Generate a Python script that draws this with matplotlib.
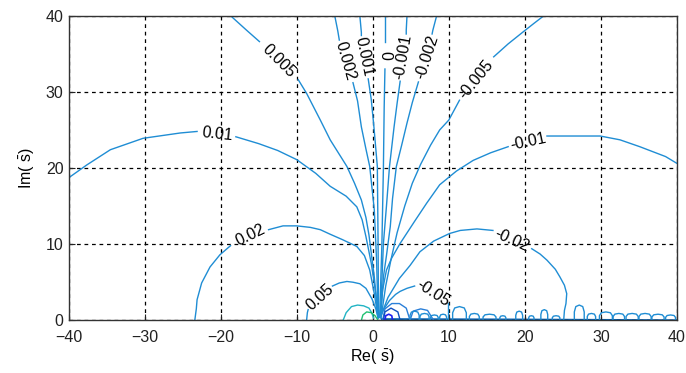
import matplotlib
matplotlib.use("Agg")
import matplotlib.pyplot as plt

plt.rcParams['font.family'] = ['Liberation Sans', 'DejaVu Sans']
plt.rcParams['mathtext.fontset'] = 'custom'
plt.rcParams['mathtext.rm'] = 'Liberation Sans'
plt.rcParams['mathtext.it'] = 'Liberation Sans'

# contour lines, each split in two where its label sits
p001_ax = [-40, -37.6, -34.5, -30.2, -25.3, -23.1]
p001_ay = [18.7, 20.4, 22.4, 23.9, 24.6, 24.8]
p001_bx = [-18.0, -15, -12.5, -10, -7.5, -5.6, -3.5, -2.1, -1.4, -0.9, -0.2, 0.4, 0.7]
p001_by = [24.1, 23.2, 22.3, 21.1, 19.3, 17.6, 16.3, 14.9, 13.2, 11.0, 7.5, 3.5, 0.3]

p0005_ax = [-18.7, -16.6, -14.9]
p0005_ay = [40, 38.1, 36.6]
p0005_bx = [-9.8, -8.7, -6.9, -5.6, -3.4, -2.4, -1.5, -0.9, -0.5, 0.2, 0.7]
p0005_by = [31.6, 29.8, 26.3, 23.7, 20.2, 18.0, 15.8, 13.5, 11.2, 5.7, 0.4]

p0002_ax = [-5.0, -4.6, -4.4]
p0002_ay = [40, 38.0, 36.8]
p0002_bx = [-2.6, -2.0, -1.5, -0.9, -0.4, 0.2, 0.5, 0.7]
p0002_by = [31.2, 28.8, 25.4, 22.5, 20.2, 14.5, 7.9, 0.4]

p0001_ax = [-1.7, -1.5, -1.5]
p0001_ay = [40, 37.8, 37.4]
p0001_bx = [-0.6, -0.2, 0.15, 0.6, 0.7, 0.75]
p0001_by = [31.7, 29, 25.4, 20.2, 10, 0.4]

zero_ax = [1.6, 1.6]
zero_ay = [40, 36.6]
zero_bx = [1.6, 1.5, 1.4, 1.2, 0.9]
zero_by = [33.0, 28, 20.2, 10, 0.4]

m0001_ax = [4.5, 4.4, 4.4]
m0001_ay = [40, 38.1, 37.6]
m0001_bx = [3.6, 3.2, 2.8, 2.2, 1.8, 1.4, 1.0]
m0001_by = [31.4, 28.5, 25.4, 20.2, 15, 10.1, 0.4]

m0002_ax = [8.4, 7.9, 7.8]
m0002_ay = [40, 38.1, 37.6]
m0002_bx = [6.0, 5.2, 4.5, 3.8, 3.1, 2.6, 2.3, 1.8, 1.4, 1.05]
m0002_by = [31.3, 28.6, 25.9, 23.0, 20.2, 16, 12.3, 8.5, 5.7, 0.4]

m0005_ax = [22.5, 21.2, 19.8, 17.8, 15.9]
m0005_ay = [40, 39.0, 37.9, 36.3, 34.6]
m0005_bx = [11.4, 10.0, 8.8, 7.6, 6.3, 5.2, 4.2, 3.2, 2.4, 1.7, 1.1]
m0005_by = [28.9, 26.3, 25.0, 23.0, 20.5, 18.0, 15.0, 11.5, 8.0, 4.5, 0.4]

m001_ax = [40, 38.5, 35.1, 32.5, 29.9, 26, 22.9]
m001_ay = [20.6, 21.5, 22.8, 23.7, 24.2, 24.2, 24.2]
m001_bx = [17.8, 15.5, 13.2, 11.0, 8.8, 7.1, 5.5, 3.6, 2.5, 1.8, 1.3, 0.95]
m001_by = [22.8, 22.0, 21.0, 19.6, 17.8, 15.4, 13.0, 10.1, 8.2, 6.6, 4, 0.4]

m002_ax = [1.0, 2.0, 3.5, 4.9, 6.2, 8.0, 10.1, 11.5, 13.7, 15.8]
m002_ay = [0.4, 3.0, 5.5, 7.2, 9.0, 10.4, 11.4, 11.8, 12.0, 11.8]
m002_bx = [20.9, 22.0, 22.9, 24.0, 24.6, 25.2, 25.5, 25.4, 25.2, 25.1]
m002_by = [9.4, 8.7, 7.9, 6.7, 5.7, 4.6, 3.5, 2.2, 1.3, 0]

p002_ax = [-23.4, -23.2, -23.1, -22.5, -21.4, -20.1, -18.7]
p002_ay = [0, 1.5, 2.7, 4.9, 7.0, 8.6, 9.8]
p002_bx = [-13.7, -11.8, -10, -8.2, -6.9, -5.6, -4.0, -2.1, -1.1, -0.4, 0.2, 0.7]
p002_by = [11.9, 12.4, 12.4, 12.2, 11.9, 11.3, 10.6, 9.7, 8.5, 6.6, 3.5, 0.3]

p005_ax = [-8.7, -8.6, -8.5]
p005_ay = [0, 1.0, 1.4]
p005_bx = [-5.3, -4.4, -3.4, -2.6, -1.7, -0.9, -0.1, 0.4, 0.7]
p005_by = [4.5, 4.9, 5.1, 5.0, 4.8, 4.2, 2.8, 1.5, 0.3]

m005_ax = [1.0, 1.4, 2.2, 3.0, 3.6, 4.5, 5.5]
m005_ay = [0.3, 1.4, 2.6, 3.4, 3.8, 4.2, 4.5]
m005_bx = [9.9, 9.9, 9.9]
m005_by = [2.3, 1.2, 0]

# label centres and angles (degrees)
label_text = ["0.01", "0.005", "0.002", "0.001", "0", "-0.001", "-0.002",
              "-0.005", "-0.01", "-0.02", "0.02", "0.05", "-0.05"]
label_x = [-20.5, -12.4, -3.6, -1.2, 1.6, 4.0, 7.1, 13.6, 20.4, 18.3, -16.1, -7.0, 7.9]
label_y = [24.4, 34.0, 34.0, 34.6, 34.8, 34.6, 34.6, 31.6, 23.5, 10.5, 11.2, 3.0, 3.5]
label_rot = [-6, -45, -74, -78, -90, 80, 72, 51, 12, -24, 26, 42, -33]

# small closed loops near the origin
teal_x = [-3.9, -3.5, -2.8, -2.0, -1.2, -0.5, -0.15, 0.1]
teal_y = [0, 1.0, 1.8, 2.0, 1.9, 1.6, 1.0, 0.3]
green_x = [-1.5, -1.3, -0.8, -0.2, 0.3, 0.7]
green_y = [0, 0.7, 1.1, 1.0, 0.6, 0]
hump1_x = [1.3, 1.6, 2.5, 3.5, 4.4, 4.9]
hump1_y = [0, 1.5, 2.2, 2.2, 1.6, 0]
hump2_x = [4.9, 5.3, 6.3, 7.2, 8.0]
hump2_y = [0, 1.2, 1.5, 1.3, 0]
dark_x = [1.4, 1.6, 2.4, 3.3, 3.6]
dark_y = [0, 1.1, 1.6, 1.1, 0]
vivid_x = [1.6, 1.7, 2.1, 2.5, 2.6]
vivid_y = [0, 0.6, 0.8, 0.6, 0]

# ripples along the positive real axis
rip_left = [4.9, 6.2, 7.6, 8.8, 10.5, 12.7, 14.5, 16.7, 18.8, 20.5,
            22.1, 23.6, 26.5, 28.2, 29.8, 31.6, 33.3, 35.0, 36.7, 38.5]
rip_right = [6.1, 7.4, 8.6, 9.7, 12.3, 14.0, 16.2, 17.5, 19.7, 21.2,
             23.0, 24.6, 27.8, 29.3, 31.5, 33.1, 34.9, 36.6, 38.3, 39.8]
rip_height = [1.2, 0.9, 0.7, 0.8, 1.8, 0.9, 0.8, 0.6, 1.2, 0.6,
              1.4, 0.6, 2.0, 0.9, 1.1, 0.9, 0.9, 0.9, 0.8, 0.7]
# crowded dark bottom band: start, end, height
band_x = [1.0, 18.0, 40.0]
band_h = [0.35, 0.3, 0.2]

line_blue = "#1f8dd4"

fig = plt.figure(figsize=(6.86, 3.73), dpi=100)
ax = fig.add_axes([0.0999, 0.1413, 0.887, 0.8166])

pieces = [
    (p001_ax, p001_ay, p001_bx, p001_by),
    (p0005_ax, p0005_ay, p0005_bx, p0005_by),
    (p0002_ax, p0002_ay, p0002_bx, p0002_by),
    (p0001_ax, p0001_ay, p0001_bx, p0001_by),
    (zero_ax, zero_ay, zero_bx, zero_by),
    (m0001_ax, m0001_ay, m0001_bx, m0001_by),
    (m0002_ax, m0002_ay, m0002_bx, m0002_by),
    (m0005_ax, m0005_ay, m0005_bx, m0005_by),
    (m001_ax, m001_ay, m001_bx, m001_by),
    (m002_ax, m002_ay, m002_bx, m002_by),
    (p002_ax, p002_ay, p002_bx, p002_by),
    (p005_ax, p005_ay, p005_bx, p005_by),
    (m005_ax, m005_ay, m005_bx, m005_by),
]
for axx, ayy, bxx, byy in pieces:
    ax.plot(axx, ayy, color=line_blue, lw=1.0)
    ax.plot(bxx, byy, color=line_blue, lw=1.0)

ax.plot(teal_x, teal_y, color="#22b4c4", lw=1.0)
ax.plot(green_x, green_y, color="#20c070", lw=1.0)
ax.plot(hump1_x, hump1_y, color="#2a7fd8", lw=1.0)
ax.plot(hump2_x, hump2_y, color="#2a7fd8", lw=1.0)
ax.plot(dark_x, dark_y, color="#1050c0", lw=1.0)
ax.plot(vivid_x, vivid_y, color="#2020f0", lw=1.2)

for l, r, h in zip(rip_left, rip_right, rip_height):
    w = r - l
    xs = [l, l, l + 0.15 * w, (l + r) / 2, r - 0.15 * w, r, r]
    ys = [0, 0.55 * h, 0.9 * h, h, 0.9 * h, 0.55 * h, 0]
    ax.plot(xs, ys, color=line_blue, lw=1.0)
ax.fill_between(band_x, 0, band_h, color="#0a64b4", lw=0)

for t, x, y, r in zip(label_text, label_x, label_y, label_rot):
    ax.text(x, y, t, rotation=r, rotation_mode="anchor", ha="center", va="center",
            fontsize=11.5, color="black")

ax.set_xlim(-40, 40)
ax.set_ylim(0, 40)
ax.set_xticks(range(-40, 41, 10))
ax.set_yticks(range(0, 41, 10))
ax.grid(True, color="black", linestyle=(0, (3, 3)), linewidth=0.9)
ax.tick_params(direction="in", length=4, labelsize=11.5, colors="#222222")
ax.tick_params(axis="x", pad=7)
for s in ax.spines.values():
    s.set_color("#333333")
    s.set_linewidth(1.0)

ax.set_xlabel(r"Re( $\bar{\mathrm{s}}$)", fontsize=11.5, labelpad=2)
ax.set_ylabel(r"Im( $\bar{\mathrm{s}}$)", fontsize=11.5, labelpad=6)

plt.savefig("out.png", dpi=100)
